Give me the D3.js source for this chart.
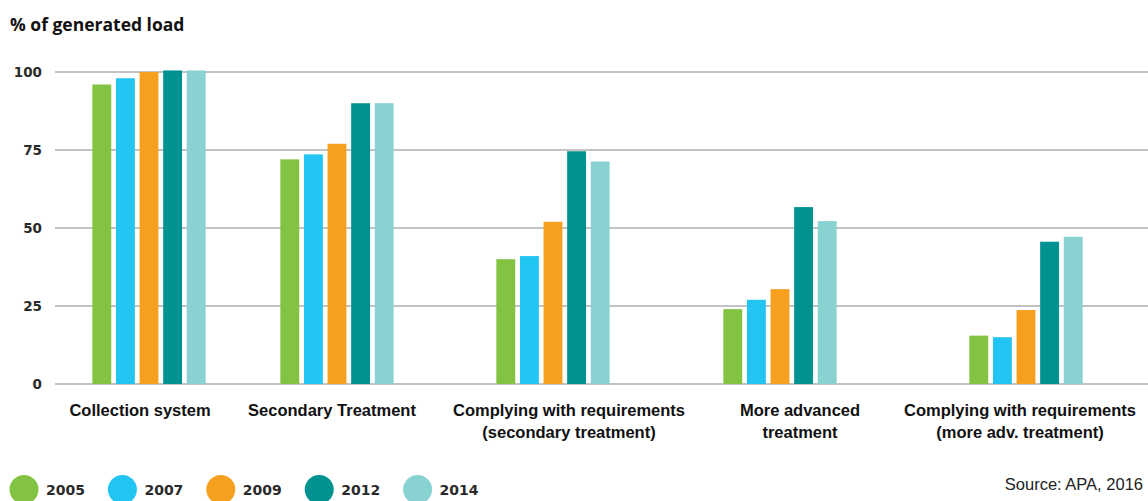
<!DOCTYPE html>
<html><head><meta charset="utf-8">
<script src="https://cdn.jsdelivr.net/npm/d3@7"></script>
<style>
html,body{margin:0;padding:0;background:#fff;}
svg{display:block;}
</style></head>
<body>
<svg id="chart" width="1148" height="501"></svg>
<script>
const categories = [
  ["Collection system"],
  ["Secondary Treatment"],
  ["Complying with requirements", "(secondary treatment)"],
  ["More advanced", "treatment"],
  ["Complying with requirements", "(more adv. treatment)"]
];
const years = ["2005", "2007", "2009", "2012", "2014"];
const colors = ["#82C341", "#22C4F2", "#F7A01F", "#009290", "#88D2D1"];
const v2005 = [96, 72, 40, 24, 15.5];
const v2007 = [98, 73.6, 41, 27, 15];
const v2009 = [100, 77, 52, 30.4, 23.7];
const v2012 = [100.5, 90, 74.6, 56.7, 45.6];
const v2014 = [100.5, 90, 71.3, 52.2, 47.2];
const yTicks = [0, 25, 50, 75, 100];
const yTitle = "% of generated load";
const source = "Source: APA, 2016";

const series = [v2005, v2007, v2009, v2012, v2014];
const svg = d3.select("#chart");

const y = d3.scaleLinear().domain([0, 100]).range([384, 72]);
const catKeys = categories.map(c => c.join(" "));
// group centres (layout of the original graphic is not evenly spaced)
const xGroup = d3.scaleOrdinal().domain(catKeys).range([149, 337, 553, 780, 1026]);
const xLabel = d3.scaleOrdinal().domain(catKeys).range([140, 332, 569, 800, 1020]);
const x1 = d3.scaleBand().domain(years).range([-59, 59]).paddingInner(0.2).paddingOuter(0.1);

// gridlines
svg.append("g").selectAll("line").data(yTicks).join("line")
  .attr("x1", 55).attr("x2", 1148)
  .attr("y1", d => y(d)).attr("y2", d => y(d))
  .attr("stroke", "#c2c2c4").attr("stroke-width", 2);

// y tick labels
svg.append("g").selectAll("text").data(yTicks).join("text")
  .attr("x", 42).attr("y", d => y(d)).attr("dy", "0.35em")
  .attr("text-anchor", "end")
  .attr("font-family", "'DejaVu Sans', sans-serif").attr("font-weight", 700)
  .attr("font-size", 13.5).attr("fill", "#2a2a2a")
  .text(d => d);

// title
svg.append("text").attr("x", 10).attr("y", 31)
  .attr("font-family", "'Open Sans', sans-serif").attr("font-weight", 700)
  .attr("font-size", 17.5).attr("fill", "#111").text(yTitle);

// bars
const groups = svg.append("g").selectAll("g").data(catKeys).join("g")
  .attr("transform", d => `translate(${xGroup(d)},0)`);
groups.selectAll("rect").data((d, i) => years.map((yr, j) => ({yr, j, v: series[j][i]})))
  .join("rect")
  .attr("x", d => x1(d.yr)).attr("width", x1.bandwidth())
  .attr("y", d => y(d.v)).attr("height", d => y(0) - y(d.v))
  .attr("fill", d => colors[d.j]);

// category labels
const lab = svg.append("g").selectAll("text").data(categories).join("text")
  .attr("text-anchor", "middle")
  .attr("font-family", "'Liberation Sans', Arial, sans-serif").attr("font-weight", 700)
  .attr("font-size", 16.5).attr("fill", "#111")
  .attr("transform", (d, i) => `translate(${xLabel(catKeys[i])},416)`);
lab.selectAll("tspan").data(d => d).join("tspan")
  .attr("x", 0).attr("dy", (d, i) => i === 0 ? 0 : 22).text(d => d);

// legend
const lx = d3.scaleBand().domain(years).range([10, 502]);
const leg = svg.append("g").selectAll("g").data(years).join("g")
  .attr("transform", d => `translate(${lx(d)},0)`);
leg.append("circle").attr("cx", 14).attr("cy", 489.5).attr("r", 14.5)
  .attr("fill", (d, i) => colors[i]);
leg.append("text").attr("x", 36).attr("y", 495)
  .attr("font-family", "'DejaVu Sans', sans-serif").attr("font-weight", 700)
  .attr("font-size", 14).attr("fill", "#2a2a2a").text(d => d);

// source
svg.append("text").attr("x", 1143).attr("y", 490).attr("text-anchor", "end")
  .attr("font-family", "'Liberation Sans', Arial, sans-serif")
  .attr("font-size", 16.5).attr("fill", "#222").text(source);
</script>
</body></html>
